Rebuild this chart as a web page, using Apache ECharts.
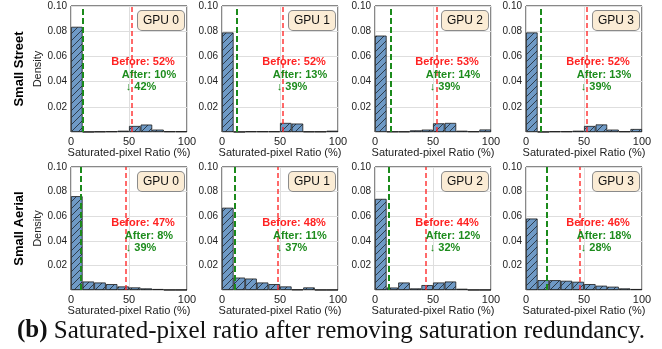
<!DOCTYPE html>
<html>
<head>
<meta charset="utf-8">
<script src="https://cdn.jsdelivr.net/npm/echarts@6/dist/echarts.min.js"></script>
<style>
html, body { margin: 0; padding: 0; background: #fff; }
#chart { width: 662px; height: 349px; }
</style>
</head>
<body>
<div id="chart"></div>
<script>
// histogram bins (10% wide)
const bins = ['0-10', '10-20', '20-30', '30-40', '40-50', '50-60', '60-70', '70-80', '80-90', '90-100'];
const gpuNames = ['GPU 0', 'GPU 1', 'GPU 2', 'GPU 3'];
const rowNames = ['Small Street', 'Small Aerial'];

// density per bin
const streetGpu0 = [0.0835, 0, 0.0003, 0.0005, 0.001, 0.0048, 0.0059, 0.0019, 0.0005, 0.0005];
const streetGpu1 = [0.079, 0, 0.0005, 0.0005, 0.0005, 0.0072, 0.0067, 0.0003, 0.0003, 0.001];
const streetGpu2 = [0.0765, 0.0003, 0.0003, 0.0013, 0.0019, 0.0069, 0.0072, 0.001, 0.0005, 0.002];
const streetGpu3 = [0.079, 0, 0.0005, 0.0005, 0.001, 0.0048, 0.006, 0.0019, 0.0005, 0.0024];
const aerialGpu0 = [0.0763, 0.0069, 0.0061, 0.0048, 0.0029, 0.0021, 0.0013, 0.0008, 0, 0];
const aerialGpu1 = [0.0669, 0.0101, 0.0093, 0.0061, 0.0048, 0.0029, 0.0003, 0.0021, 0, 0];
const aerialGpu2 = [0.0741, 0.002, 0.0061, 0.0013, 0.004, 0.0061, 0.0069, 0.001, 0, 0];
const aerialGpu3 = [0.0581, 0.008, 0.008, 0.0075, 0.0067, 0.0048, 0.0035, 0.0027, 0.0013, 0.0008];

// saturated-pixel ratio (%) before / after
const streetBefore = [52, 52, 53, 52];
const streetAfter = [10, 13, 14, 13];
const aerialBefore = [47, 48, 44, 46];
const aerialAfter = [8, 11, 12, 18];

const panelData = [streetGpu0, streetGpu1, streetGpu2, streetGpu3, aerialGpu0, aerialGpu1, aerialGpu2, aerialGpu3];
const beforeVals = streetBefore.concat(aerialBefore);
const afterVals = streetAfter.concat(aerialAfter);

// layout
const lefts = [71, 222, 375, 526];
const tops = [6, 167];
const plotW = 116;
const plotH = [126, 123];
const FONT = '"Liberation Sans", Arial, sans-serif';

// hatch fill "//"
const hatch = document.createElement('canvas');
hatch.width = 7; hatch.height = 7;
const ctx = hatch.getContext('2d');
ctx.fillStyle = '#6f9ac6';
ctx.fillRect(0, 0, 7, 7);
ctx.strokeStyle = '#26313d';
ctx.lineWidth = 0.9;
ctx.beginPath();
ctx.moveTo(0, 7); ctx.lineTo(7, 0);
ctx.moveTo(-1, 1); ctx.lineTo(1, -1);
ctx.moveTo(6, 8); ctx.lineTo(8, 6);
ctx.stroke();

const chart = echarts.init(document.getElementById('chart'));

let grid = [], xAxis = [], yAxis = [], series = [], graphic = [];

for (let r = 0; r < 2; r++) {
    for (let c = 0; c < 4; c++) {
        const i = r * 4 + c;
        const L = lefts[c], T = tops[r], H = plotH[r];
        grid.push({
            left: L, top: T, width: plotW, height: H,
            show: true, borderColor: '#111', borderWidth: 1
        });
        // value axis for ticks + lines
        xAxis.push({
            gridIndex: i, type: 'value', min: 0, max: 100, interval: 50,
            axisLine: { show: false }, axisTick: { show: false },
            axisLabel: { fontSize: 11, color: '#222', margin: 4, fontFamily: FONT },
            splitLine: { show: true, lineStyle: { color: '#dedede', width: 1 } },
            name: 'Saturated-pixel Ratio (%)', nameLocation: 'middle', nameGap: 14,
            nameTextStyle: { fontSize: 11, color: '#222', fontFamily: FONT, verticalAlign: 'top' }
        });
        // hidden category axis for the bins
        xAxis.push({
            gridIndex: i, type: 'category', data: bins, show: false
        });
        yAxis.push({
            gridIndex: i, type: 'value', min: 0, max: 0.1, interval: 0.02,
            axisLine: { show: false }, axisTick: { show: false },
            axisLabel: {
                fontSize: 10, color: '#222', margin: 4, fontFamily: FONT,
                formatter: v => v === 0 ? '' : v.toFixed(2)
            },
            splitLine: { show: true, lineStyle: { color: '#dedede', width: 1 } },
            name: c === 0 ? 'Density' : '', nameLocation: 'middle', nameGap: 18,
            nameTextStyle: { fontSize: 11, color: '#222', fontFamily: FONT }
        });
        series.push({
            type: 'bar', xAxisIndex: 2 * i + 1, yAxisIndex: i,
            data: panelData[i], barWidth: '100%', barCategoryGap: 0, silent: true,
            itemStyle: {
                color: { image: hatch, repeat: 'repeat' },
                borderColor: '#1a1a1a', borderWidth: 0.8
            }
        });
        series.push({
            type: 'line', xAxisIndex: 2 * i, yAxisIndex: i, data: [], z: 5,
            markLine: {
                symbol: ['none', 'none'], silent: true, label: { show: false },
                data: [
                    { xAxis: beforeVals[i], lineStyle: { color: 'rgba(255,35,35,0.9)', type: [5, 3], width: 1.5 } },
                    { xAxis: afterVals[i], lineStyle: { color: '#1b8a1b', type: [6, 3], width: 2 } }
                ]
            }
        });

        // GPU label box
        graphic.push({
            type: 'text', x: L + plotW - 3, y: T + 5, z: 10,
            style: {
                text: gpuNames[c], align: 'right', verticalAlign: 'top',
                textAlign: 'right', textVerticalAlign: 'top',
                font: '12px ' + FONT, fill: '#111',
                backgroundColor: '#fbecd5', borderColor: '#8a8a8a', borderWidth: 1,
                borderRadius: 4, padding: [4, 5, 3, 5]
            }
        });
        // annotations
        const ann = [
            { t: 'Before: ' + beforeVals[i] + '%', dx: 72, dy: 56, col: '#ff2222' },
            { t: 'After: ' + afterVals[i] + '%', dx: 78, dy: 69, col: '#1d8c1d' },
            { t: '\u2193 ' + (beforeVals[i] - afterVals[i]) + '%', dx: 70, dy: 81, col: '#1d8c1d' }
        ];
        ann.forEach(a => {
            graphic.push({
                type: 'text', x: L + a.dx, y: T + a.dy, z: 10,
                style: {
                    text: a.t, align: 'center', verticalAlign: 'middle',
                    textAlign: 'center', textVerticalAlign: 'middle',
                    font: 'bold 11px ' + FONT, fill: a.col
                }
            });
        });
    }
    // row label
    graphic.push({
        type: 'text', x: 19, y: tops[r] + plotH[r] / 2, rotation: Math.PI / 2,
        style: {
            text: rowNames[r], align: 'center', verticalAlign: 'middle',
            textAlign: 'center', textVerticalAlign: 'middle',
            font: 'bold 13px ' + FONT, fill: '#000'
        }
    });
}

// caption
graphic.push({
    type: 'text', x: 331, y: 331,
    style: {
        text: '{b|(b)} Saturated-pixel ratio after removing saturation redundancy.',
        align: 'center', verticalAlign: 'middle',
        textAlign: 'center', textVerticalAlign: 'middle',
        font: '25px "Liberation Serif", serif', fill: '#111',
        rich: {
            b: { fontWeight: 'bold', fontSize: 25, fontFamily: '"Liberation Serif", serif', fill: '#111' }
        }
    }
});

const option = {
    animation: false,
    textStyle: { fontFamily: FONT },
    grid, xAxis, yAxis, series, graphic
};
option && chart.setOption(option);
</script>
</body>
</html>
